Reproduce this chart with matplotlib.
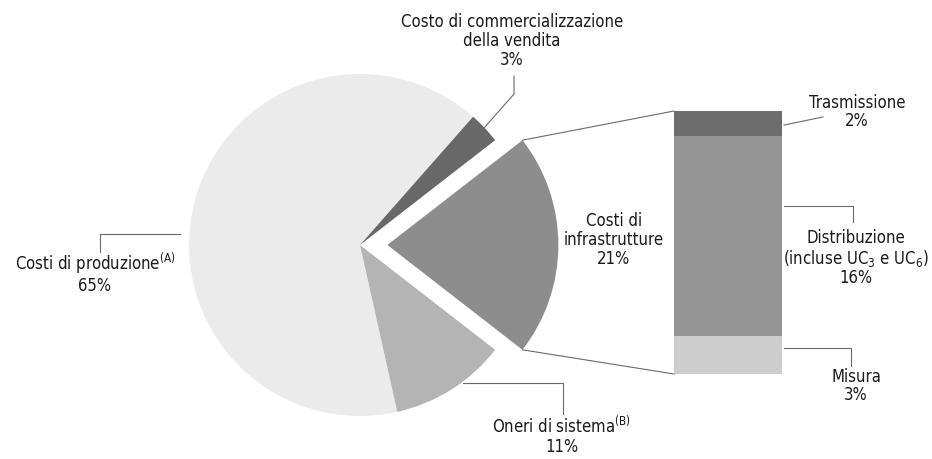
import matplotlib
matplotlib.use("Agg")
import matplotlib.pyplot as plt
from matplotlib.patches import ConnectionPatch
import numpy as np

# pie shares (%)
pie_labels = ["Costi di produzione", "Oneri di sistema", "Costi di infrastrutture",
              "Costo di commercializzazione della vendita"]
pie_values = [65, 11, 21, 3]
pie_colors = ["#ebebeb", "#b4b4b4", "#8d8d8d", "#686868"]

# breakdown of infrastructure costs, stacked from bottom
bar_labels = ["Misura", "Distribuzione", "Trasmissione"]
bar_values = [3, 16, 2]
bar_colors = ["#cdcdcd", "#959595", "#6d6d6d"]

W, H = 932, 459
plt.rcParams["font.family"] = ["DejaVu Sans"]
plt.rcParams["font.stretch"] = "condensed"
plt.rcParams["mathtext.fontset"] = "custom"
plt.rcParams["mathtext.rm"] = "DejaVu Sans:stretch=condensed"
plt.rcParams["mathtext.it"] = "DejaVu Sans:stretch=condensed"
plt.rcParams["mathtext.bf"] = "DejaVu Sans:stretch=condensed"

TXT = "#1a1a1a"
LINE = "#6a6a6a"


def py(y):
    # layout positions are measured from the top of the picture
    return H - y


fig = plt.figure(figsize=(W / 100, H / 100), dpi=100)
ax = fig.add_axes([0, 0, 1, 1])

R = 171
infra = pie_values[2]
comm = pie_values[3]
start = (infra / 2 + comm) * 3.6
explode = [0, 0, 0.16 * R, 0]  # pie takes the offset in data units

wedges, _ = ax.pie(pie_values, colors=pie_colors, startangle=start, counterclock=True,
                   explode=explode, center=(360, py(245)), radius=R,
                   wedgeprops=dict(linewidth=0))
ax.set_xlim(0, W)
ax.set_ylim(0, H)
ax.set_aspect("equal")
ax.axis("off")

# stacked bar for the infrastructure slice
axb = fig.add_axes([674 / W, py(374) / H, 108 / W, 263 / H])
bottom = 0
for v, c in zip(bar_values, bar_colors):
    axb.bar(0, v, bottom=bottom, width=1, color=c, linewidth=0)
    bottom += v
axb.set_xlim(-0.5, 0.5)
axb.set_ylim(0, sum(bar_values))
axb.axis("off")

# lines from the exploded wedge to the bar
w = wedges[2]
cx, cy = w.center
for theta, yb in [(w.theta2, sum(bar_values)), (w.theta1, 0)]:
    t = np.deg2rad(theta)
    p = (cx + w.r * np.cos(t), cy + w.r * np.sin(t))
    con = ConnectionPatch(xyA=p, coordsA=ax.transData, xyB=(-0.5, yb), coordsB=axb.transData,
                          color=LINE, lw=0.8)
    fig.add_artist(con)

fs = 12
kw = dict(ha="center", va="center", fontsize=fs, color=TXT, linespacing=1.05,
          multialignment="center")

ax.text(512, py(41), "Costo di commercializzazione\ndella vendita\n%d%%" % pie_values[3], **kw)
ax.text(95, py(273), "Costi di produzione$^{\\mathrm{(A)}}$\n%d%%" % pie_values[0], **kw)
ax.text(614, py(240), "Costi di\ninfrastrutture\n%d%%" % pie_values[2], **kw)
ax.text(562, py(436), "Oneri di sistema$^{\\mathrm{(B)}}$\n%d%%" % pie_values[1], **kw)
ax.text(857, py(112), "Trasmissione\n%d%%" % bar_values[2], **kw)
ax.text(856, py(258), "Distribuzione\n(incluse UC$_{\\mathrm{3}}$ e UC$_{\\mathrm{6}}$)\n%d%%" % bar_values[1], **kw)
ax.text(856, py(386), "Misura\n%d%%" % bar_values[0], **kw)

# leader lines
leaders = [
    [(514, 76), (514, 94), (484, 128)],
    [(100, 252), (100, 234), (180, 234)],
    [(463, 383), (563, 383), (563, 414)],
    [(784, 125), (823, 117)],
    [(784, 206), (853, 206), (853, 222)],
    [(784, 348), (851, 348), (851, 366)],
]
for pts in leaders:
    xs = [p[0] for p in pts]
    ys = [py(p[1]) for p in pts]
    ax.plot(xs, ys, color=LINE, lw=0.8)

fig.savefig("out.png", dpi=100, facecolor="white")
